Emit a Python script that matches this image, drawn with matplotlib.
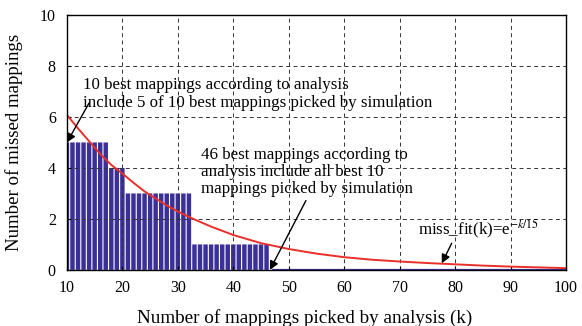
"""Missed mappings vs. number of mappings picked by analysis."""

import matplotlib
matplotlib.use('Agg')
import matplotlib.pyplot as plt
import numpy as np

# Misses per k (k = 10..100)
K = np.arange(10, 101)
MISSES = np.array(
    [5] * 8        # k = 10..17
    + [4] * 3      # k = 18..20
    + [3] * 12     # k = 21..32
    + [1] * 14     # k = 33..46
    + [0] * 54     # k = 47..100
)

# Fitted curve, sampled points
FIT_K = [10, 12, 14, 16, 18, 20, 22, 24, 26, 28, 30, 33, 36, 40, 45, 50,
         55, 60, 65, 70, 75, 80, 85, 90, 95, 100]
FIT_Y = [6.08, 5.55, 5.05, 4.55, 4.12, 3.78, 3.42, 3.08, 2.80, 2.53, 2.29,
         1.98, 1.70, 1.37, 1.05, 0.82, 0.64, 0.50, 0.40, 0.33, 0.27, 0.22,
         0.17, 0.13, 0.10, 0.07]

XTICKS = list(range(10, 101, 10))
YTICKS = [0, 2, 4, 6, 8, 10]

BAR_COLOR = '#3a3098'
FIT_COLOR = '#e8302a'

plt.rcParams['font.family'] = ['Liberation Serif', 'DejaVu Serif']
plt.rcParams['mathtext.fontset'] = 'stix'

fig = plt.figure(figsize=(5.82, 3.26), dpi=100)
ax = fig.add_axes([0.115, 0.172, 0.8575, 0.782])

bars = ax.bar(K, MISSES, width=0.8, color=BAR_COLOR, linewidth=0, zorder=2)
for b in bars:
    b.set_snap(False)
# zero-height bars still show up as a thin line on the baseline
zero = MISSES == 0
ax.plot(K[zero], MISSES[zero], color=BAR_COLOR, linewidth=1.6, zorder=2,
        solid_capstyle='butt')
ax.plot(FIT_K, FIT_Y, color=FIT_COLOR, linewidth=1.4, zorder=3)

ax.set_xlim(10, 100)
ax.set_ylim(0, 10)
ax.set_xticks(XTICKS)
ax.set_yticks(YTICKS)
ax.tick_params(direction='in', length=3, labelsize=11.5)
ax.tick_params(axis='x', pad=7)
ax.tick_params(axis='y', pad=8)
ax.grid(True, color='#333333', linestyle=(0, (4, 3.5)), linewidth=0.7, zorder=2.5)
ax.set_axisbelow(False)
for s in ax.spines.values():
    s.set_linewidth(1.0)
    s.set_zorder(4)

ax.set_xlabel('Number of mappings picked by analysis (k)', fontsize=13.8)
ax.set_ylabel('Number of missed mappings', fontsize=13.6)
ax.xaxis.set_label_coords((305 - 67) / 499, -0.155)
ax.yaxis.set_label_coords((23 - 67) / 499, 0.5)

arrow = dict(arrowstyle='-|>', color='black', lw=1.0, mutation_scale=13,
             shrinkA=0, shrinkB=0)
txt = dict(fontsize=12.2, ha='left', va='baseline', linespacing=1.12)

ax.text(12.83, 6.4, '10 best mappings according to analysis\n'
        'include 5 of 10 best mappings picked by simulation', **txt)
ax.annotate('', xy=(10, 5.0), xytext=(14.0, 6.55), arrowprops=arrow)

ax.text(34.17, 3.0, '46 best mappings according to\n'
        'analysis include all best 10\n'
        'mappings picked by simulation', **txt)
ax.annotate('', xy=(46.6, 0.0), xytext=(53.1, 2.72), arrowprops=arrow)

ax.text(73.37, 1.37, r'miss_fit(k)=e$^{-k/15}$', **txt)
ax.annotate('', xy=(77.6, 0.26), xytext=(79.4, 1.05), arrowprops=arrow)

fig.savefig('out.png', dpi=100)
